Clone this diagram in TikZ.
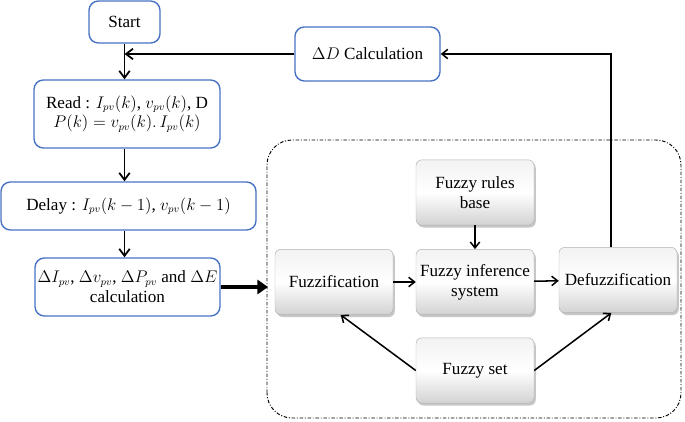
\documentclass[tikz,border=0pt]{standalone}
\usepackage{fontspec}
\setmainfont{Liberation Serif}
\usepackage{amsmath}
\usetikzlibrary{positioning,calc,shadows,arrows.meta}

\definecolor{boxblue}{RGB}{72,114,196}
\newcommand{\mth}[1]{{\fontsize{13.5}{16}\selectfont$#1$}}

\tikzset{
    flowbox/.style={draw=boxblue, line width=1.2pt, rounded corners=8pt, fill=white, align=center, inner sep=2pt},
    fuzzbox/.style={draw=gray!60, rounded corners=5pt, top color=gray!10, bottom color=gray!35, middle color=white,
        drop shadow={shadow xshift=1.5pt, shadow yshift=-2pt, opacity=0.45}, align=center,
        minimum width=3.54cm, minimum height=1.96cm, inner sep=1pt},
    flow/.style={-{Straight Barb[length=6pt,width=9pt]}, line width=1.5pt},
    thin flow/.style={-{Straight Barb[length=5pt,width=8pt]}, line width=1.3pt}
}

\begin{document}
\begin{tikzpicture}[font=\fontsize{14.6}{17}\selectfont]
        \useasboundingbox (0,0) rectangle (20.55,12.63);

        % left flow chart
        \node[flowbox, minimum width=2.13cm, minimum height=1.26cm] (start) at (3.735,11.97) {Start};
        \node[flowbox, minimum width=5.58cm, minimum height=2.04cm] (read) at (3.81,9.21)
            {Read : \mth{I_{pv}(k)}, \mth{v_{pv}(k)}, D\\ \mth{P(k)=v_{pv}(k).\,I_{pv}(k)}};
        \node[flowbox, minimum width=7.65cm, minimum height=1.44cm] (delay) at (3.855,6.45)
            {Delay : \mth{I_{pv}(k-1)}, \mth{v_{pv}(k-1)}};
        \node[flowbox, minimum width=5.55cm, minimum height=1.74cm] (diff) at (3.825,4.02)
            {\mth{\Delta I_{pv}}, \mth{\Delta v_{pv}}, \mth{\Delta P_{pv}} and \mth{\Delta E}\\ calculation};
        \node[flowbox, minimum width=4.35cm, minimum height=1.62cm] (dD) at (11.025,11.01)
            {\mth{\Delta D} Calculation};

        \draw[flow] (start.south) -- (start.south |- read.north);
        \draw[flow] (start.south |- read.south) -- (start.south |- delay.north);
        \draw[flow] (start.south |- delay.south) -- (start.south |- diff.north);

        % fuzzy controller
        \draw[line width=0.8pt, dash pattern=on 3pt off 1.5pt on 0.8pt off 1.5pt, rounded corners=0.75cm]
            (8.01,0.09) rectangle (20.43,8.43);
        \coordinate (fin) at (8.04,4.02);

        \node[fuzzbox] (fuzz) at (10.02,4.17) {Fuzzification};
        \node[fuzzbox] (fis) at (14.25,4.17) {Fuzzy inference\\ system};
        \node[fuzzbox] (defuzz) at (18.54,4.23) {Defuzzification};
        \node[fuzzbox] (rules) at (14.25,6.855) {Fuzzy rules\\ base};
        \node[fuzzbox] (fset) at (14.25,1.515) {Fuzzy set};

        \draw[-{Triangle[length=9pt,width=12pt]}, line width=4pt] (diff.east) -- (fin);
        \draw[thin flow] (fuzz) -- (fis);
        \draw[thin flow] (fis) -- (defuzz);
        \draw[thin flow] (rules) -- (fis);
        \draw[thin flow] (fset.west) -- ($(fuzz.south)+(0.2,0)$);
        \draw[thin flow] (fset.east) -- ($(defuzz.south)+(-0.2,0)$);

        % feedback
        \coordinate (up) at ($(defuzz.north)+(-0.21,0)$);
        \draw[thin flow] (up) |- (dD.east);
        \draw[flow] (dD.west) -- (start.south |- dD.west);
    \end{tikzpicture}
\end{document}
